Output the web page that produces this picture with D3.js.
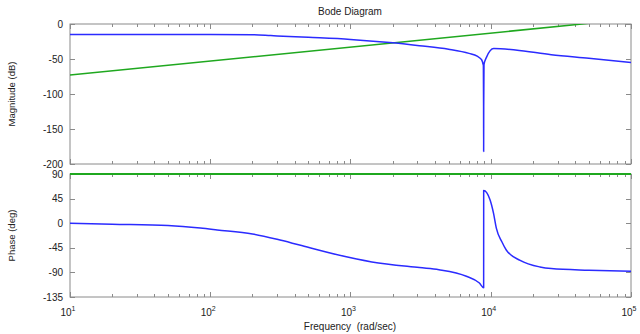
<!DOCTYPE html>
<html>
<head>
<meta charset="utf-8">
<script src="https://cdn.jsdelivr.net/npm/d3@7"></script>
<style>
  html, body { margin: 0; padding: 0; background: #fff; }
  svg { display: block; font-family: "Liberation Sans", Arial, Helvetica, sans-serif; }
</style>
</head>
<body>
<svg id="chart" width="640" height="334"></svg>
<script>
// Frequency axis (rad/sec), decades shown
const decadeExponents = [1, 2, 3, 4, 5];

// Magnitude panel ticks (dB) and phase panel ticks (deg)
const magTicks = [0, -50, -100, -150, -200];
const phaseTicks = [90, 45, 0, -45, -90, -135];

// Blue response: magnitude (dB) sampled over frequency
const magFreq = [10, 100, 200, 270, 300, 500, 1000, 1900, 3100, 5000, 7000, 8000, 8600,
                 8860, 8890, 8900, 8910, 8950, 9300, 10500, 15000, 27000, 50000, 100000];
const magBlue = [-15, -15, -15.2, -16.5, -17, -19, -22, -26.5, -31, -36, -42, -46, -51,
                 -59, -118, -182, -118, -58, -48, -35, -37, -44, -49, -55];

// Green response: magnitude (dB), straight rise of 20 dB/decade
const magFreqGreen = [10, 100000];
const magGreen = [-73, 7];

// Blue response: phase (deg)
const phaseFreq = [10, 20, 50, 85, 112, 200, 300, 433, 740, 1420, 3100, 4270, 6700, 8300,
                   8900, 8905, 9880, 10470, 10960, 12000, 12900, 16200, 22400, 27000, 50000, 100000];
const phaseBlue = [0, -1.8, -4.4, -9, -12.3, -19.7, -29.5, -40, -55.4, -70.8, -81.2, -85, -97, -109.5,
                   -118, 60, 43, 18, -9, -34, -49, -68, -80, -83, -86, -88];

// Green response: phase (deg), constant
const phaseFreqGreen = [10, 100000];
const phaseGreen = [90, 90];

const svg = d3.select("#chart");
const left = 70, right = 631;
const magTop = 24, magBottom = 164;
const phTop = 174, phBottom = 297;

const blue = "#2b2bff";
const green = "#1fa81f";
const frameColor = "#8a8a8a";
const textColor = "#222";

const x = d3.scaleLog().domain([10, 100000]).range([left, right]);
const yMag = d3.scaleLinear().domain([-200, 0]).range([magBottom, magTop]);
const yPh = d3.scaleLinear().domain([-135, 90]).range([phBottom, phTop]);

// Minor log ticks: 2..9 in each decade
const minorTicks = [];
for (let e = 1; e < 5; e++) for (let m = 2; m <= 9; m++) minorTicks.push(m * Math.pow(10, e));
const majorTicks = decadeExponents.map(e => Math.pow(10, e));

function panel(y, top, bottom, yTicks, id) {
  const g = svg.append("g");
  g.append("clipPath").attr("id", id).append("rect")
    .attr("x", left).attr("y", top).attr("width", right - left).attr("height", bottom - top);

  // frame
  g.append("rect").attr("x", left).attr("y", top)
    .attr("width", right - left).attr("height", bottom - top)
    .attr("fill", "#fff").attr("stroke", frameColor).attr("stroke-width", 1);

  // x ticks inside, top and bottom
  const tickG = g.append("g").attr("stroke", frameColor).attr("stroke-width", 1);
  minorTicks.forEach(f => {
    const px = Math.round(x(f)) + 0.5;
    tickG.append("line").attr("x1", px).attr("x2", px).attr("y1", bottom).attr("y2", bottom - 3);
    tickG.append("line").attr("x1", px).attr("x2", px).attr("y1", top).attr("y2", top + 3);
  });
  majorTicks.forEach(f => {
    const px = Math.round(x(f)) + 0.5;
    tickG.append("line").attr("x1", px).attr("x2", px).attr("y1", bottom).attr("y2", bottom - 5);
    tickG.append("line").attr("x1", px).attr("x2", px).attr("y1", top).attr("y2", top + 5);
  });
  // y ticks inside, left and right
  yTicks.forEach(v => {
    const py = Math.round(y(v)) + 0.5;
    tickG.append("line").attr("x1", left).attr("x2", left + 5).attr("y1", py).attr("y2", py);
    tickG.append("line").attr("x1", right).attr("x2", right - 5).attr("y1", py).attr("y2", py);
  });

  // y tick labels
  g.append("g").selectAll("text").data(yTicks).join("text")
    .attr("x", left - 7).attr("y", d => y(d) + 3.5)
    .attr("text-anchor", "end").attr("font-size", 10).attr("fill", textColor)
    .text(d => d);
  return g;
}

const magG = panel(yMag, magTop, magBottom, magTicks, "clipMag");
const phG = panel(yPh, phTop, phBottom, phaseTicks, "clipPh");

function drawLine(g, clipId, fx, fy, y, color, width) {
  const pts = fx.map((f, i) => [f, fy[i]]);
  g.append("path").datum(pts)
    .attr("clip-path", `url(#${clipId})`)
    .attr("fill", "none").attr("stroke", color).attr("stroke-width", width)
    .attr("stroke-linejoin", "round")
    .attr("d", d3.line().x(d => x(d[0])).y(d => y(d[1])).curve(d3.curveMonotoneX));
}

drawLine(magG, "clipMag", magFreqGreen, magGreen, yMag, green, 1.5);
drawLine(magG, "clipMag", magFreq, magBlue, yMag, blue, 1.5);

// phase lines are not clipped at the top so the 90° line sits on the frame
(function () {
  const ptsG = phaseFreqGreen.map((f, i) => [f, phaseGreen[i]]);
  phG.append("path").datum(ptsG)
    .attr("fill", "none").attr("stroke", green).attr("stroke-width", 2)
    .attr("d", d3.line().x(d => x(d[0])).y(d => yPh(d[1])));
})();
drawLine(phG, "clipPh", phaseFreq, phaseBlue, yPh, blue, 1.5);

// x tick labels as 10^n
const xl = svg.append("g");
decadeExponents.forEach(e => {
  const t = xl.append("text")
    .attr("x", x(Math.pow(10, e)) - 2).attr("y", 316)
    .attr("text-anchor", "middle").attr("font-size", 10).attr("fill", textColor);
  t.append("tspan").text("10");
  t.append("tspan").attr("dy", -5).attr("font-size", 7).text(e);
});

// axis titles
svg.append("text").attr("x", 350).attr("y", 330)
  .attr("text-anchor", "middle").attr("font-size", 10).attr("fill", textColor)
  .attr("xml:space", "preserve")
  .text("Frequency  (rad/sec)");

svg.append("text").attr("transform", `translate(15,${(magTop + magBottom) / 2}) rotate(-90)`)
  .attr("text-anchor", "middle").attr("font-size", 9.5).attr("fill", textColor)
  .text("Magnitude (dB)");

svg.append("text").attr("transform", `translate(15,${(phTop + phBottom) / 2}) rotate(-90)`)
  .attr("text-anchor", "middle").attr("font-size", 9.5).attr("fill", textColor)
  .text("Phase (deg)");

svg.append("text").attr("x", 350).attr("y", 15)
  .attr("text-anchor", "middle").attr("font-size", 10).attr("fill", textColor)
  .text("Bode Diagram");
</script>
</body>
</html>
